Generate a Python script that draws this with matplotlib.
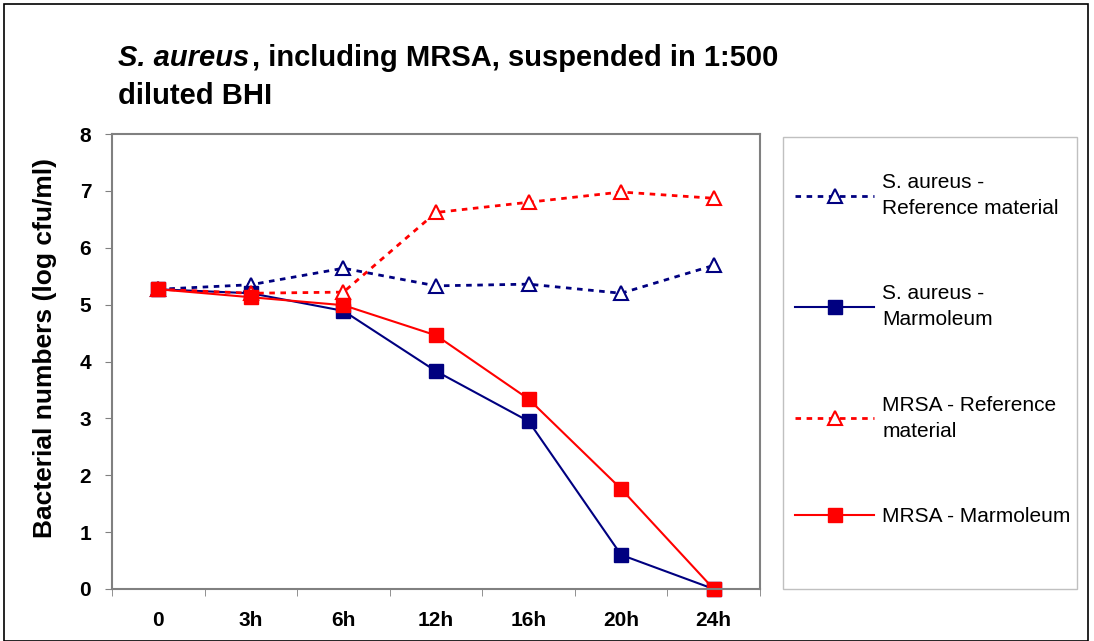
import matplotlib
matplotlib.use("Agg")
import matplotlib.pyplot as plt
from matplotlib.patches import Rectangle

categories = ["0", "3h", "6h", "12h", "16h", "20h", "24h"]
sa_ref = [5.27, 5.35, 5.64, 5.33, 5.36, 5.20, 5.69]
sa_marm = [5.27, 5.20, 4.89, 3.83, 2.95, 0.60, 0.00]
mrsa_ref = [5.27, 5.20, 5.22, 6.62, 6.80, 6.98, 6.87]
mrsa_marm = [5.27, 5.13, 4.99, 4.46, 3.34, 1.76, 0.00]
series_labels = ["S. aureus -\nReference material", "S. aureus -\nMarmoleum",
                 "MRSA - Reference\nmaterial", "MRSA - Marmoleum"]
yticks = [0, 1, 2, 3, 4, 5, 6, 7, 8]

plt.rcParams['font.family'] = ['Liberation Sans', 'DejaVu Sans']

W, H = 1094, 641
fig = plt.figure(figsize=(W / 100, H / 100), dpi=100)
fig.patches.append(Rectangle((4 / W, 0), (1088 - 4) / W, 1 - 4 / H, transform=fig.transFigure,
                             fill=False, edgecolor='black', linewidth=1.2))

ax = fig.add_axes([112 / W, 1 - 589 / H, (760 - 112) / W, (589 - 134) / H])
x = list(range(len(categories)))
navy = '#000080'
red = '#FF0000'

l1, = ax.plot(x, sa_ref, color=navy, linestyle=(0, (2, 2)), linewidth=2, marker='^',
              markersize=10, markerfacecolor='white', markeredgecolor=navy, markeredgewidth=1.5)
l2, = ax.plot(x, sa_marm, color=navy, linestyle='-', linewidth=1.5, marker='s',
              markersize=10, markerfacecolor=navy, markeredgecolor=navy)
l3, = ax.plot(x, mrsa_ref, color=red, linestyle=(0, (2, 2)), linewidth=2, marker='^',
              markersize=10, markerfacecolor='white', markeredgecolor=red, markeredgewidth=1.5)
l4, = ax.plot(x, mrsa_marm, color=red, linestyle='-', linewidth=1.5, marker='s',
              markersize=10, markerfacecolor=red, markeredgecolor=red)
for l in (l1, l2, l3, l4):
    l.set_clip_on(False)

ax.set_xlim(-0.5, len(categories) - 0.5)
ax.set_ylim(0, 8)
ax.set_yticks(yticks)
ax.set_yticklabels([str(v) for v in yticks], fontsize=15, fontweight='bold')
ax.set_xticks(x)
ax.set_xticklabels(categories, fontsize=15, fontweight='bold')
ax.tick_params(axis='x', length=0, pad=16)
ax.set_xticks([i + 0.5 for i in range(-1, len(categories))], minor=True)
ax.tick_params(axis='x', which='minor', length=5, color='#808080', direction='out')
ax.tick_params(axis='y', length=5, color='#808080', direction='out', pad=10)
for s in ax.spines.values():
    s.set_color('#808080')
    s.set_linewidth(1.5)

ax.set_ylabel("Bacterial numbers (log cfu/ml)", fontsize=19, fontweight='bold')
ax.yaxis.set_label_coords((45 - 112) / 648, (589 - 348) / 455)
ax.yaxis.label.set_va('center')

t0 = fig.text(118 / W, 1 - 58 / H, "S. aureus", fontsize=21, fontweight='bold', fontstyle='italic',
              va='center', ha='left')
fig.canvas.draw()
bb = t0.get_window_extent(renderer=fig.canvas.get_renderer())
t1 = fig.text((bb.x1 + 3) / W, 1 - 58 / H, ", including MRSA, suspended in 1:500", fontsize=21,
              fontweight='bold', va='center', ha='left')
fig.text(118 / W, 1 - 96 / H, "diluted BHI", fontsize=21, fontweight='bold', va='center', ha='left')

fig.patches.append(Rectangle((783 / W, 1 - 589 / H), (1077 - 783) / W, (589 - 137) / H,
                             transform=fig.transFigure, fill=False, edgecolor='#C0C0C0',
                             linewidth=1))
leg = fig.legend([l1, l2, l3, l4], series_labels, loc='upper left',
                 bbox_to_anchor=(795 / W, 1 - 173 / H), fontsize=15, frameon=False,
                 labelspacing=3.2, handlelength=3.8, borderpad=0, borderaxespad=0,
                 handletextpad=0.4)
for t in leg.get_texts():
    t.set_linespacing(1.45)

fig.savefig("out.png", dpi=100)
